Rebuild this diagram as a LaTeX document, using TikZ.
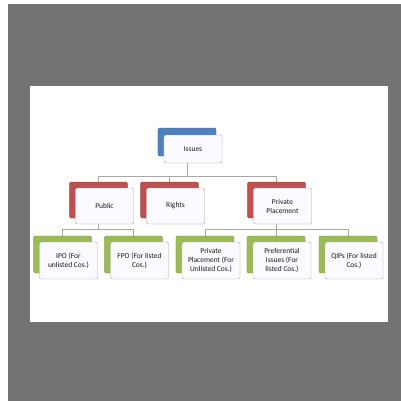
\documentclass[tikz,border=0pt]{standalone}
\usepackage{fontspec}
\setmainfont{Carlito}
\usetikzlibrary{positioning,backgrounds}
\definecolor{bgray}{HTML}{737373}
\definecolor{lblue}{HTML}{4F81BD}
\definecolor{lred}{HTML}{C0504D}
\definecolor{lgreen}{HTML}{9BBB59}
\definecolor{lline}{HTML}{A6A6A6}
\tikzset{
  frontbox/.style={draw=black!35, fill=blue!2, rounded corners=2bp,
    minimum width=58bp, minimum height=36bp, inner sep=1bp,
    align=center, font=\fontsize{7.5}{9}\selectfont, text=black!90},
  backbox/.style={draw=#1!75!black, fill=#1, rounded corners=2bp,
    minimum width=58bp, minimum height=36bp},
  link/.style={draw=lline, line width=0.8bp}
}
\begin{document}
\begin{tikzpicture}[x=1bp,y=-1bp]
\useasboundingbox (0,0) rectangle (401,401);
% top level
\node[backbox=lblue, minimum height=28bp] (issb) at (187,142) {};
\node[frontbox, minimum height=28bp] (iss) at ([shift={(6,7)}]issb) {Issues};
% second level
\node[backbox=lred] (pubb) at (98.5,200) {};
\node[frontbox] (pub) at ([shift={(6,6)}]pubb) {Public};
\node[backbox=lred] (rigb) at (169.5,200) {};
\node[frontbox] (rig) at ([shift={(6,6)}]rigb) {Rights};
\node[backbox=lred] (prvb) at (276.5,200) {};
\node[frontbox] (prv) at ([shift={(6,6)}]prvb) {Private\\Placement};
% third level
\node[backbox=lgreen, minimum height=37bp] (ipob) at (62.5,254.5) {};
\node[frontbox, minimum height=37bp] (ipo) at ([shift={(6,6)}]ipob) {IPO (For\\unlisted Cos.)};
\node[backbox=lgreen, minimum height=37bp] (fpob) at (133.5,254.5) {};
\node[frontbox, minimum height=37bp] (fpo) at ([shift={(6,6)}]fpob) {FPO (For listed\\Cos.)};
\node[backbox=lgreen, minimum height=37bp] (ppub) at (205,254.5) {};
\node[frontbox, minimum height=37bp] (ppu) at ([shift={(6,6)}]ppub) {Private\\Placement (For\\Unlisted Cos.)};
\node[backbox=lgreen, minimum height=37bp] (prfb) at (276,254.5) {};
\node[frontbox, minimum height=37bp] (prf) at ([shift={(6,6)}]prfb) {Preferential\\Issues (For\\listed Cos.)};
\node[backbox=lgreen, minimum height=37bp] (qipb) at (348,254.5) {};
\node[frontbox, minimum height=37bp] (qip) at ([shift={(6,6)}]qipb) {QIPs (For listed\\Cos.)};
% connectors
\coordinate (busa) at (0,176);
\coordinate (busb) at (0,229);
\begin{scope}[on background layer]
\fill[white] (0,0) rectangle (401,401);
\fill[bgray] (8,4) rectangle (401,401);
\fill[white] (30,86) rectangle (388,322);
\draw[link] (issb |- iss.south) -- (issb |- busa);
\draw[link] (pubb.north) -- (pubb |- busa) -- (prvb |- busa) -- (prvb.north);
\draw[link] (rigb.north) -- (rigb |- busa);
\draw[link] (pubb |- pub.south) -- (pubb |- busb);
\draw[link] (ipob.north) -- (ipob |- busb) -- (fpob |- busb) -- (fpob.north);
\draw[link] (prvb |- prv.south) -- (prvb |- busb);
\draw[link] (ppub.north) -- (ppub |- busb) -- (qipb |- busb) -- (qipb.north);
\draw[link] (prfb.north) -- (prfb |- busb);
\end{scope}
\end{tikzpicture}
\end{document}
